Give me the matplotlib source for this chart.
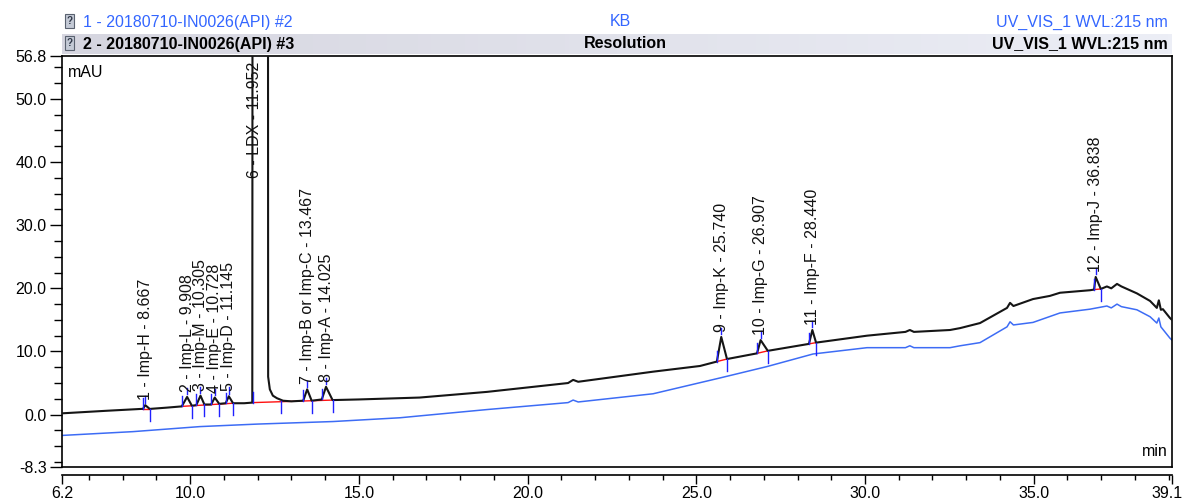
import matplotlib
matplotlib.use("Agg")
import matplotlib.pyplot as plt
import numpy as np
from matplotlib.patches import Rectangle
from matplotlib.lines import Line2D
from matplotlib.colors import LinearSegmentedColormap
from matplotlib.transforms import ScaledTranslation

plt.rcParams['font.family'] = ['Liberation Sans', 'DejaVu Sans']
plt.rcParams['axes.unicode_minus'] = False

# ---------------- data ----------------
# Sample trace (#3), time in min, signal in mAU
black_t = [6.2, 7.5, 8.55, 8.60, 8.667, 8.80, 9.3, 9.75, 9.908, 10.05, 10.18, 10.305, 10.42,
           10.62, 10.728, 10.86, 11.05, 11.145, 11.27, 11.6, 11.84, 11.87, 12.29, 12.31, 12.36,
           12.45, 12.57, 12.75, 13.0, 13.35, 13.467, 13.60, 13.90, 14.025, 14.22, 15.0, 16.8,
           18.8, 21.2, 21.35, 21.5, 23.72, 25.11, 25.61, 25.74, 25.91, 26.80, 26.907, 27.12,
           28.34, 28.44, 28.55, 30.06, 31.2, 31.33, 31.45, 32.52, 32.82, 33.41, 34.21, 34.30,
           34.40, 34.98, 35.48, 35.78, 36.67, 36.79, 36.838, 36.99, 37.17, 37.3, 37.47, 37.6,
           38.06, 38.45, 38.65, 38.71, 38.77, 38.83, 39.04, 39.1]
black_v = [0.2, 0.6, 0.9, 0.9, 1.5, 0.9, 1.1, 1.3, 2.8, 1.4, 1.5, 3.0, 1.6,
           1.6, 2.7, 1.7, 1.8, 2.9, 1.8, 1.8, 1.9, 300.0, 300.0, 6.0, 4.0,
           3.0, 2.6, 2.2, 2.1, 2.2, 4.0, 2.2, 2.4, 4.4, 2.3, 2.4, 2.7,
           3.6, 5.0, 5.5, 5.2, 6.8, 7.7, 8.4, 12.3, 8.8, 9.7, 11.8, 10.1,
           11.2, 13.4, 11.4, 12.5, 13.1, 13.4, 13.1, 13.4, 13.7, 14.5, 16.9, 17.7,
           17.2, 18.3, 18.8, 19.3, 19.7, 19.8, 21.8, 19.9, 20.3, 20.0, 20.7, 20.3,
           19.2, 18.0, 16.9, 18.1, 16.6, 16.7, 15.3, 15.0]

# Blank trace (#2)
blue_t = [6.2, 8.3, 10.29, 12.0, 14.23, 16.22, 16.81, 18.8, 21.2, 21.35, 21.5, 23.72, 25.70,
          27.09, 28.46, 30.06, 31.2, 31.33, 31.45, 32.52, 32.82, 33.41, 34.21, 34.30, 34.40,
          34.98, 35.78, 36.67, 37.17, 37.3, 37.47, 37.6, 38.06, 38.45, 38.65, 38.71, 38.77,
          39.04, 39.1]
blue_v = [-3.3, -2.7, -1.9, -1.5, -1.1, -0.5, -0.2, 0.8, 1.9, 2.3, 2.0, 3.3, 5.8,
          7.6, 9.6, 10.6, 10.6, 10.9, 10.6, 10.6, 10.9, 11.4, 13.9, 14.7, 14.2,
          14.6, 16.1, 16.7, 17.2, 16.9, 17.5, 17.1, 16.6, 15.5, 14.5, 15.3, 13.9,
          12.1, 11.8]

# Peak table
peak_labels = ["1 - Imp-H - 8.667", "2 - Imp-L - 9.908", "3 - Imp-M - 10.305",
               "4 - Imp-E - 10.728", "5 - Imp-D - 11.145", "6 - LDX - 11.952",
               "7 - Imp-B or Imp-C - 13.467", "8 - Imp-A - 14.025", "9 - Imp-K - 25.740",
               "10 - Imp-G - 26.907", "11 - Imp-F - 28.440", "12 - Imp-J - 36.838"]
peak_rt = [8.667, 9.908, 10.305, 10.728, 11.145, 11.952, 13.467, 14.025, 25.740, 26.907, 28.440, 36.838]
peak_apex = [1.5, 2.8, 3.0, 2.7, 2.9, np.nan, 4.0, 4.4, 12.3, 11.8, 13.4, 21.8]
peak_start = [8.60, 9.75, 10.18, 10.62, 11.05, 11.85, 13.35, 13.90, 25.61, 26.80, 28.34, 36.79]
peak_end = [8.80, 10.05, 10.42, 10.86, 11.27, 12.68, 13.60, 14.22, 25.91, 27.12, 28.55, 36.99]
base_start = [0.9, 1.3, 1.5, 1.6, 1.8, 1.9, 2.2, 2.4, 8.4, 9.7, 11.2, 19.8]
base_end = [0.9, 1.4, 1.6, 1.7, 1.8, 2.2, 2.2, 2.3, 8.8, 10.1, 11.4, 19.9]
peak_group = [1, 2, 2, 2, 2, 3, 3, 3, 4, 5, 6, 7]
ldx_label_y = 37.5

x_ticks = [6.2, 10.0, 15.0, 20.0, 25.0, 30.0, 35.0, 39.1]
y_ticks = [-8.3, 0.0, 10.0, 20.0, 30.0, 40.0, 50.0, 56.8]

# ---------------- figure ----------------
W, H = 1183, 499
fig = plt.figure(figsize=(W / 100, H / 100), dpi=100)

def fx(px):
    return px / W

def fy(py):
    return 1 - py / H

ax = fig.add_axes([fx(62), fy(467), fx(1172) - fx(62), fy(56) - fy(467)])
ax.set_xlim(6.2, 39.1)
ax.set_ylim(-8.3, 56.8)

BLACK = '#151515'
BLUE_TR = '#3d6cf5'
MARK = '#2020ff'

ax.plot(blue_t, blue_v, color=BLUE_TR, lw=1.1, zorder=2)

# red baselines (per integration group)
groups = {}
for i, g in enumerate(peak_group):
    groups.setdefault(g, []).append(i)
for g, idx in groups.items():
    ax.plot([peak_start[idx[0]], peak_end[idx[-1]]], [base_start[idx[0]], base_end[idx[-1]]],
            color='#ff1010', lw=1.0, zorder=3)

ax.plot(black_t, black_v, color=BLACK, lw=1.5, zorder=4, solid_joinstyle='round')

# blue delimiters
for i in range(len(peak_rt)):
    ax.plot([peak_start[i]] * 2, [base_start[i], base_start[i] + 1.7], color=MARK, lw=1.0, zorder=5)
    ax.plot([peak_end[i]] * 2, [base_end[i], base_end[i] - 1.9], color=MARK, lw=1.0, zorder=5)
    if not np.isnan(peak_apex[i]):
        ax.plot([peak_rt[i]] * 2, [peak_apex[i] + 0.4, peak_apex[i] + 1.4], color=MARK, lw=1.0, zorder=5)

# peak labels
for i, lab in enumerate(peak_labels):
    if np.isnan(peak_apex[i]):
        x, y = peak_rt[i] - 0.05, ldx_label_y
    else:
        x, y = peak_rt[i], peak_apex[i] + 0.8
    ax.text(x, y, lab, rotation=90, ha='center', va='bottom', fontsize=11.5, color='#111111', zorder=6)

ax.text(0.0054, 0.961, "mAU", transform=ax.transAxes, ha='left', va='center', fontsize=11.5)
ax.text(0.9964, 0.0365, "min", transform=ax.transAxes, ha='right', va='center', fontsize=11.5)

# axes styling
for s in ax.spines.values():
    s.set_color('black')
    s.set_linewidth(1.2)
ax.spines['bottom'].set_position(('outward', 6))
ax.add_line(Line2D([0, 1], [0, 0], transform=ax.transAxes, color='black', lw=1.2, clip_on=False))

ax.set_xticks(x_ticks)
ax.set_xticklabels([f"{v:.1f}" for v in x_ticks])
ax.set_xticks(np.arange(7, 40, 1.0), minor=True)
ax.set_yticks(y_ticks)
ax.set_yticklabels([f"{v:.1f}" for v in y_ticks])
ax.set_yticks(np.arange(-7.5, 56, 2.5), minor=True)
ax.tick_params(axis='x', which='major', length=6.5, width=1, pad=1, labelsize=11.5)
ax.tick_params(axis='x', which='minor', length=3.6, width=1)
ax.tick_params(axis='y', which='major', length=9, width=1, pad=2, labelsize=11.5)
ax.tick_params(axis='y', which='minor', length=5.5, width=1)

# keep the last x tick label inside the picture (as in the reference)
last = ax.get_xticklabels()[-1]
last.set_transform(last.get_transform() + ScaledTranslation(-5 / 100, 0, fig.dpi_scale_trans))

# header band with gradient
band = fig.add_axes([fx(62), fy(54), fx(1172) - fx(62), fy(34) - fy(54)])
cmap = LinearSegmentedColormap.from_list('band', ['#d6d6e0', '#eceef6'])
band.imshow(np.linspace(0, 1, 256)[None, :], aspect='auto', cmap=cmap, extent=[0, 1, 0, 1])
band.set_axis_off()

# icons
for py in (14, 36):
    fig.patches.append(Rectangle((fx(65), fy(py + 14)), fx(9), fy(py) - fy(py + 14),
                                 transform=fig.transFigure, facecolor='#c4cad6',
                                 edgecolor='#5a6270', lw=0.8, zorder=10))
    fig.text(fx(69.5), fy(py + 7.5), "?", ha='center', va='center', fontsize=7,
             fontweight='bold', color='#303848', zorder=11)

BLUE_TXT = '#3366ff'
fig.text(fx(83), fy(22), "1 - 20180710-IN0026(API) #2", ha='left', va='center', fontsize=11.5, color=BLUE_TXT)
fig.text(fx(620), fy(22), "KB", ha='center', va='center', fontsize=11.5, color=BLUE_TXT)
fig.text(fx(1168), fy(22), "UV_VIS_1 WVL:215 nm", ha='right', va='center', fontsize=11.5, color=BLUE_TXT)
fig.text(fx(83), fy(44), "2 - 20180710-IN0026(API) #3", ha='left', va='center', fontsize=11.5,
         fontweight='bold', color='black', zorder=12)
fig.text(fx(625), fy(44), "Resolution", ha='center', va='center', fontsize=11.5,
         fontweight='bold', color='black', zorder=12)
fig.text(fx(1168), fy(44), "UV_VIS_1 WVL:215 nm", ha='right', va='center', fontsize=11.5,
         fontweight='bold', color='black', zorder=12)

fig.savefig("out.png", dpi=100)
